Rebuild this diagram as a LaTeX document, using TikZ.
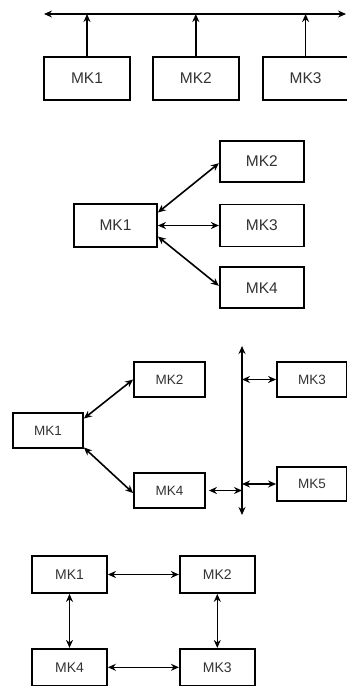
\documentclass[tikz,border=0pt]{standalone}
\usepackage{fontspec}
\setmainfont{Liberation Sans}
\usetikzlibrary{arrows.meta,positioning}

\begin{document}
\begin{tikzpicture}[x=1pt,y=-1pt,>={Stealth[length=8pt,width=7pt]},line width=1.6pt,
	mk/.style={draw,line width=1.8pt,rectangle,inner sep=0pt,text=black!80,font=\fontsize{15.5}{15.5}\selectfont},
	mkbig/.style={mk,minimum width=86pt,minimum height=43pt},
	mksmall/.style={mk,minimum width=70pt,minimum height=35pt,font=\fontsize{13.5}{13.5}\selectfont},
	mkmid/.style={mk,minimum width=75pt,minimum height=37pt,font=\fontsize{14}{14}\selectfont}]
	\useasboundingbox (0,0) rectangle (346,686);

	% common bus
	\node[mkbig] (mkA1) at (87,78.5) {MK1};
	\node[mkbig] (mkA2) [right=21pt of mkA1] {MK2};
	\node[mkbig] (mkA3) [right=22pt of mkA2] {MK3};
	\coordinate (busL) at (44,14);
	\coordinate (busR) at (346,14);
	\draw[<->] (busL) -- (busR);
	\foreach \n in {mkA1,mkA2,mkA3}
		\draw[->] (\n.north) -- (\n.north |- busL);

	% star
	\node[mkbig,minimum width=83pt] (mkB1) at (115.5,225.5) {MK1};
	\node[mkbig,minimum width=84pt,minimum height=42pt] (mkB3) [right=61pt of mkB1] {MK3};
	\node[mkbig,minimum width=84pt,minimum height=41pt] (mkB2) [above=21pt of mkB3] {MK2};
	\node[mkbig,minimum width=84pt,minimum height=41pt] (mkB4) [below=19pt of mkB3] {MK4};
	\path[<->]
	([yshift=13pt]mkB1.east) edge ([yshift=-2pt]mkB2.west)
	(mkB1.east) edge (mkB3.west)
	([yshift=-11pt]mkB1.east) edge ([yshift=2pt]mkB4.west)
	;

	% mixed
	\node[mksmall] (mkC1) at (48,430.5) {MK1};
	\node[mksmall,minimum width=71pt] (mkC2) at (169.5,379.5) {MK2};
	\node[mksmall,minimum width=71pt] (mkC4) at (169.5,490.5) {MK4};
	\node[mksmall] (mkC3) at (312,379.5) {MK3};
	\node[mksmall,minimum height=34pt] (mkC5) at (312,484) {MK5};
	\coordinate (busT) at (242,346);
	\coordinate (busB) at (242,515);
	\draw[<->] (busT) -- (busB);
	\path[<->]
	([yshift=12pt]mkC1.east) edge (mkC2.west)
	([yshift=-17pt]mkC1.east) edge ([yshift=-2.5pt]mkC4.west)
	([xshift=3pt]mkC4.east) edge (mkC4.east -| busT)
	(mkC3.west -| busT) edge (mkC3.west)
	(mkC5.west -| busT) edge (mkC5.west)
	;

	% ring
	\node[mkmid] (mkD1) at (69.5,574.5) {MK1};
	\node[mkmid] (mkD2) [right=71pt of mkD1] {MK2};
	\node[mkmid] (mkD4) [below=54pt of mkD1] {MK4};
	\node[mkmid] (mkD3) [right=71pt of mkD4] {MK3};
	\path[<->]
	(mkD1) edge (mkD2)
	(mkD4) edge (mkD3)
	(mkD1) edge (mkD4)
	(mkD2) edge (mkD3)
	;
\end{tikzpicture}
\end{document}
